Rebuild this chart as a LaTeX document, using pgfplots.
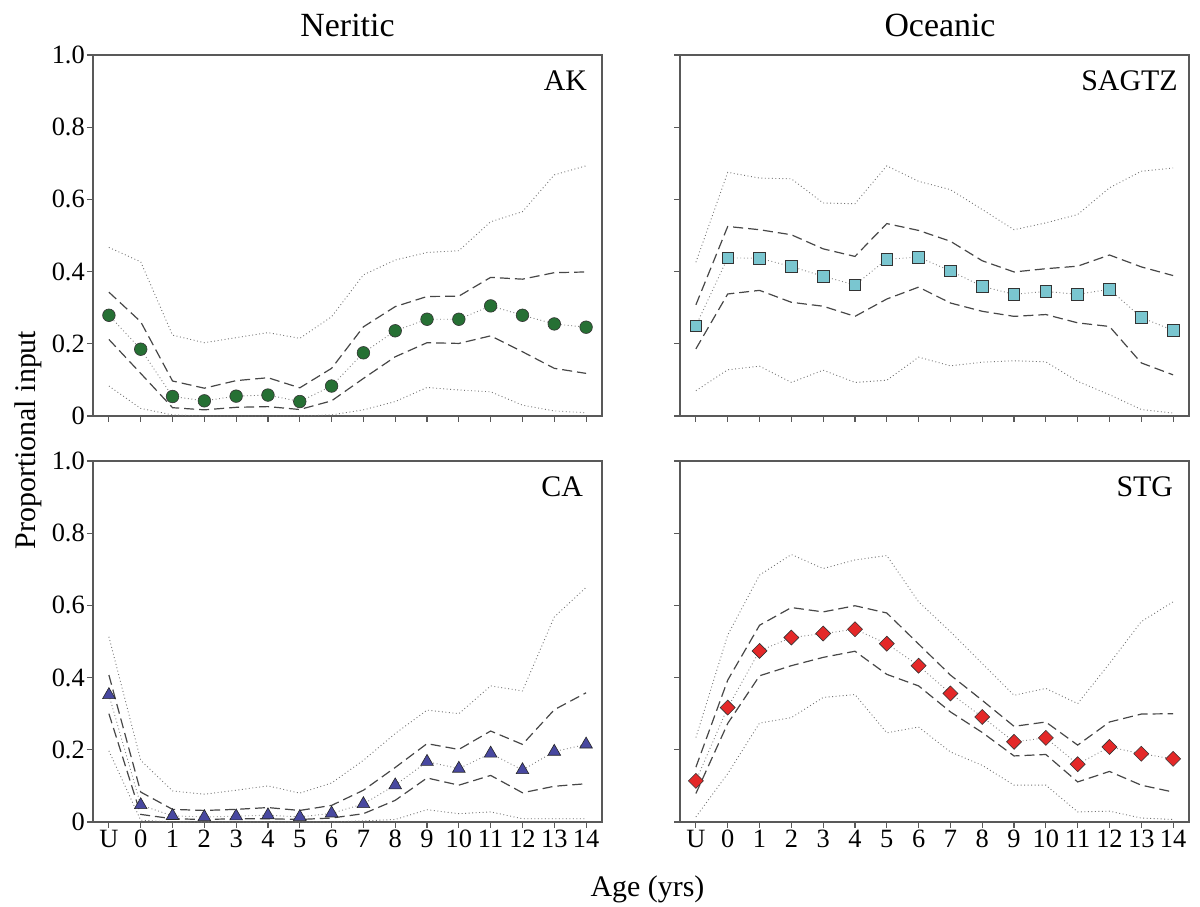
\documentclass[border=0pt]{standalone}
\usepackage{fontspec}
\setmainfont{Liberation Serif}
\usepackage{pgfplots}
\usepackage{pgfplotstable}
\pgfplotsset{compat=1.18}

\pgfplotstableread{
x m ud ld uo lo
0 0.279 0.343 0.212 0.467 0.083
1 0.185 0.261 0.118 0.427 0.021
2 0.054 0.097 0.023 0.224 0.003
3 0.042 0.077 0.017 0.203 0.000
4 0.055 0.098 0.024 0.217 0.000
5 0.058 0.106 0.026 0.231 0.000
6 0.040 0.078 0.018 0.215 0.000
7 0.083 0.132 0.042 0.275 0.003
8 0.175 0.247 0.104 0.391 0.017
9 0.236 0.303 0.164 0.432 0.040
10 0.268 0.331 0.203 0.453 0.079
11 0.268 0.332 0.201 0.458 0.072
12 0.305 0.384 0.222 0.538 0.067
13 0.279 0.379 0.178 0.566 0.030
14 0.255 0.397 0.132 0.668 0.014
15 0.246 0.399 0.118 0.693 0.009
}\AK

\pgfplotstableread{
x m ud ld uo lo
0 0.250 0.308 0.186 0.426 0.070
1 0.438 0.525 0.338 0.675 0.128
2 0.437 0.516 0.348 0.659 0.138
3 0.414 0.502 0.315 0.657 0.093
4 0.387 0.463 0.304 0.590 0.127
5 0.363 0.442 0.276 0.588 0.093
6 0.434 0.533 0.324 0.693 0.099
7 0.440 0.514 0.357 0.650 0.163
8 0.402 0.484 0.313 0.627 0.139
9 0.359 0.430 0.290 0.572 0.149
10 0.337 0.399 0.276 0.516 0.153
11 0.345 0.408 0.281 0.535 0.150
12 0.337 0.415 0.258 0.558 0.096
13 0.351 0.446 0.248 0.632 0.059
14 0.273 0.413 0.147 0.678 0.018
15 0.237 0.389 0.114 0.687 0.008
}\SAGTZ

\pgfplotstableread{
x m ud ld uo lo
0 0.352 0.407 0.300 0.513 0.197
1 0.047 0.083 0.021 0.171 0.005
2 0.017 0.035 0.009 0.086 0.000
3 0.014 0.032 0.007 0.077 0.000
4 0.016 0.035 0.009 0.088 0.000
5 0.019 0.040 0.009 0.100 0.000
6 0.014 0.032 0.007 0.080 0.000
7 0.024 0.046 0.011 0.108 0.000
8 0.050 0.088 0.023 0.171 0.003
9 0.102 0.151 0.060 0.245 0.007
10 0.167 0.217 0.122 0.310 0.034
11 0.148 0.201 0.102 0.300 0.023
12 0.190 0.252 0.129 0.377 0.028
13 0.144 0.215 0.081 0.363 0.009
14 0.195 0.311 0.099 0.568 0.009
15 0.215 0.358 0.106 0.650 0.009
}\CA

\pgfplotstableread{
x m ud ld uo lo
0 0.114 0.152 0.079 0.234 0.014
1 0.317 0.393 0.273 0.518 0.134
2 0.474 0.545 0.405 0.684 0.274
3 0.511 0.594 0.433 0.741 0.289
4 0.522 0.582 0.456 0.702 0.345
5 0.534 0.599 0.473 0.726 0.353
6 0.494 0.579 0.409 0.738 0.247
7 0.433 0.493 0.377 0.610 0.263
8 0.356 0.407 0.305 0.527 0.194
9 0.291 0.337 0.248 0.439 0.157
10 0.222 0.265 0.183 0.351 0.102
11 0.233 0.277 0.187 0.370 0.102
12 0.160 0.213 0.111 0.328 0.028
13 0.208 0.277 0.140 0.439 0.030
14 0.189 0.299 0.102 0.555 0.011
15 0.175 0.300 0.083 0.610 0.007
}\STG

\definecolor{cgreen}{RGB}{38,112,52}
\definecolor{ccyan}{RGB}{122,198,208}
\definecolor{cblue}{RGB}{72,72,160}
\definecolor{cred}{RGB}{228,40,40}

\tikzset{
  dotl/.style={black!55, line width=0.9bp, dash pattern=on 0.9bp off 2.6bp},
  dashl/.style={black!72, line width=1.2bp, dash pattern=on 10bp off 5bp},
  cenl/.style={black!50, line width=0.9bp, dash pattern=on 0.9bp off 2.6bp},
  plab/.style={anchor=base east, font=\fontsize{30}{32}\selectfont, inner sep=0pt},
}

\pgfplotsset{
  panel/.style={
    scale only axis, width=509bp, height=361bp,
    anchor=south west,
    xmin=-0.5, xmax=15.5, ymin=0, ymax=1,
    xtick={0,...,15}, ytick={0,0.2,0.4,0.6,0.8,1},
    xticklabels={U,0,1,2,3,4,5,6,7,8,9,10,11,12,13,14},
    yticklabels={0,0.2,0.4,0.6,0.8,1.0},
    tick align=outside, xtick pos=bottom, ytick pos=left,
    major tick length=6bp,
    axis line style={black!65, line width=1.3bp},
    tick style={black!65, line width=1.1bp},
    ticklabel style={font=\fontsize{26.5}{28}\selectfont},
    xticklabel style={inner sep=2bp},
    yticklabel style={inner sep=2bp},
    clip=false,
  },
  noxlabels/.style={xticklabels={}},
  noylabels/.style={yticklabels={}},
}

\begin{document}
\begin{tikzpicture}
\useasboundingbox (0,0) rectangle (1200bp,907bp);

% Top-left AK
\begin{axis}[panel, noxlabels, at={(93bp,491bp)}]
\addplot[dotl] table[x=x,y=uo]{\AK};
\addplot[dotl] table[x=x,y=lo]{\AK};
\addplot[dashl] table[x=x,y=ud]{\AK};
\addplot[dashl] table[x=x,y=ld]{\AK};
\addplot[cenl, mark=*, mark size=6.3bp, mark options={solid, fill=cgreen, draw=black!80, line width=0.6bp}] table[x=x,y=m]{\AK};
\node[plab] at (rel axis cs:0.971,0.903) {AK};
\end{axis}

% Top-right SAGTZ
\begin{axis}[panel, noxlabels, noylabels, at={(680bp,491bp)}]
\addplot[dotl] table[x=x,y=uo]{\SAGTZ};
\addplot[dotl] table[x=x,y=lo]{\SAGTZ};
\addplot[dashl] table[x=x,y=ud]{\SAGTZ};
\addplot[dashl] table[x=x,y=ld]{\SAGTZ};
\addplot[cenl, mark=square*, mark size=5.8bp, mark options={solid, fill=ccyan, draw=black!80, line width=0.8bp}] table[x=x,y=m]{\SAGTZ};
\node[plab] at (rel axis cs:0.978,0.903) {SAGTZ};
\end{axis}

% Bottom-left CA
\begin{axis}[panel, at={(93bp,85bp)}]
\addplot[dotl] table[x=x,y=uo]{\CA};
\addplot[dotl] table[x=x,y=lo]{\CA};
\addplot[dashl] table[x=x,y=ud]{\CA};
\addplot[dashl] table[x=x,y=ld]{\CA};
\addplot[cenl, mark=triangle*, mark size=7.3bp, mark options={solid, fill=cblue, draw=black!85, line width=0.6bp}] table[x=x,y=m]{\CA};
\node[plab] at (rel axis cs:0.963,0.903) {CA};
\end{axis}

% Bottom-right STG
\begin{axis}[panel, noylabels, at={(680bp,85bp)}]
\addplot[dotl] table[x=x,y=uo]{\STG};
\addplot[dotl] table[x=x,y=lo]{\STG};
\addplot[dashl] table[x=x,y=ud]{\STG};
\addplot[dashl] table[x=x,y=ld]{\STG};
\addplot[cenl, mark=square*, mark size=5.3bp, mark options={solid, rotate=45, fill=cred, draw=black!80, line width=0.6bp}] table[x=x,y=m]{\STG};
\node[plab] at (rel axis cs:0.969,0.903) {STG};
\end{axis}

\node[anchor=base, font=\fontsize{34}{36}\selectfont, inner sep=0pt] at (347.5bp,870bp) {Neritic};
\node[anchor=base, font=\fontsize{34}{36}\selectfont, inner sep=0pt] at (940bp,870bp) {Oceanic};
\node[anchor=base, rotate=90, font=\fontsize{30}{32}\selectfont, inner sep=0pt] at (35bp,467bp) {Proportional input};
\node[anchor=base, font=\fontsize{30}{32}\selectfont, inner sep=0pt] at (647.5bp,11bp) {Age (yrs)};
\end{tikzpicture}
\end{document}
